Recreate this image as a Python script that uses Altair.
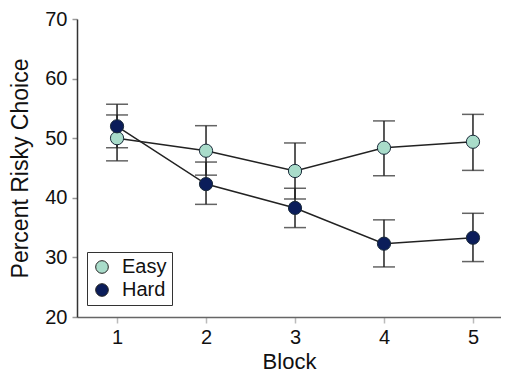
import altair as alt
import pandas as pd

blocks = [1, 2, 3, 4, 5]
easy_mean = [50.0, 47.9, 44.5, 48.4, 49.4]
easy_lo = [46.2, 43.8, 39.8, 43.7, 44.6]
easy_hi = [53.9, 52.1, 49.2, 52.9, 54.0]
hard_mean = [52.0, 42.3, 38.3, 32.3, 33.3]
hard_lo = [48.4, 38.9, 35.0, 28.4, 29.3]
hard_hi = [55.7, 46.0, 41.6, 36.3, 37.4]
groups = ["Easy", "Hard"]
colors = ["#a9dcca", "#0b1d5a"]

rows = []
for b, m, lo, hi in zip(blocks, easy_mean, easy_lo, easy_hi):
    rows.append({"Block": b, "Group": "Easy", "Mean": m, "Lo": lo, "Hi": hi})
for b, m, lo, hi in zip(blocks, hard_mean, hard_lo, hard_hi):
    rows.append({"Block": b, "Group": "Hard", "Mean": m, "Lo": lo, "Hi": hi})
df = pd.DataFrame(rows)

FONT = "Liberation Sans"

x = alt.X("Block:Q", scale=alt.Scale(domain=[0.55, 5.315], nice=False, zero=False),
          axis=alt.Axis(values=blocks, title="Block", format="d", grid=False,
                        domainColor="#666666", domainWidth=1.5,
                        tickColor="#bbbbbb", tickSize=6, tickWidth=1.5,
                        labelFontSize=20, labelFont=FONT, labelColor="#111111",
                        labelPadding=4, titleFontSize=22, titleFont=FONT,
                        titleFontWeight="normal", titleColor="#111111", titlePadding=4))
yscale = alt.Scale(domain=[20, 70], nice=False, zero=False)
y = alt.Y("Mean:Q", scale=yscale,
          axis=alt.Axis(values=[20, 30, 40, 50, 60, 70], title="Percent Risky Choice", grid=False,
                        domainColor="#333333", domainWidth=1.5,
                        tickColor="#999999", tickSize=5, tickWidth=1.5,
                        labelFontSize=20, labelFont=FONT, labelColor="#111111",
                        labelPadding=5, titleFontSize=23, titleFont=FONT,
                        titleFontWeight="normal", titleColor="#111111", titlePadding=12))

base = alt.Chart(df)

rules = base.mark_rule(color="#222222", strokeWidth=1.5).encode(
    x=x, y=alt.Y("Lo:Q", scale=yscale), y2="Hi:Q", detail="Group:N")
cap_lo = base.mark_tick(color="#222222", thickness=1.5, size=22, orient="horizontal").encode(
    x=x, y=alt.Y("Lo:Q", scale=yscale))
cap_hi = base.mark_tick(color="#222222", thickness=1.5, size=22, orient="horizontal").encode(
    x=x, y=alt.Y("Hi:Q", scale=yscale))
lines = base.mark_line(color="#222222", strokeWidth=1.5).encode(
    x=x, y=y, detail="Group:N")
points = base.mark_circle(size=175, opacity=1, stroke="#1a2a3a", strokeWidth=1).encode(
    x=x, y=y,
    color=alt.Color("Group:N", scale=alt.Scale(domain=groups, range=colors),
                    legend=alt.Legend(title=None, orient="none", legendX=10, legendY=233,
                                      direction="vertical", symbolType="circle", symbolSize=160,
                                      symbolStrokeColor="#222222", symbolStrokeWidth=1,
                                      symbolOpacity=1,
                                      labelFontSize=20, labelFont=FONT, labelColor="#111111",
                                      labelOffset=10, rowPadding=3,
                                      strokeColor="#333333", padding=5, fillColor="white",
                                      cornerRadius=0)))

chart = alt.layer(lines, rules, cap_lo, cap_hi, points).properties(
    width=424, height=298,
    autosize=alt.AutoSizeParams(type="none"),
    padding={"left": 69, "top": 11, "right": 0, "bottom": 56},
).configure_view(stroke=None)

chart.save("out.html", embed_options={"renderer": "svg", "actions": False})
